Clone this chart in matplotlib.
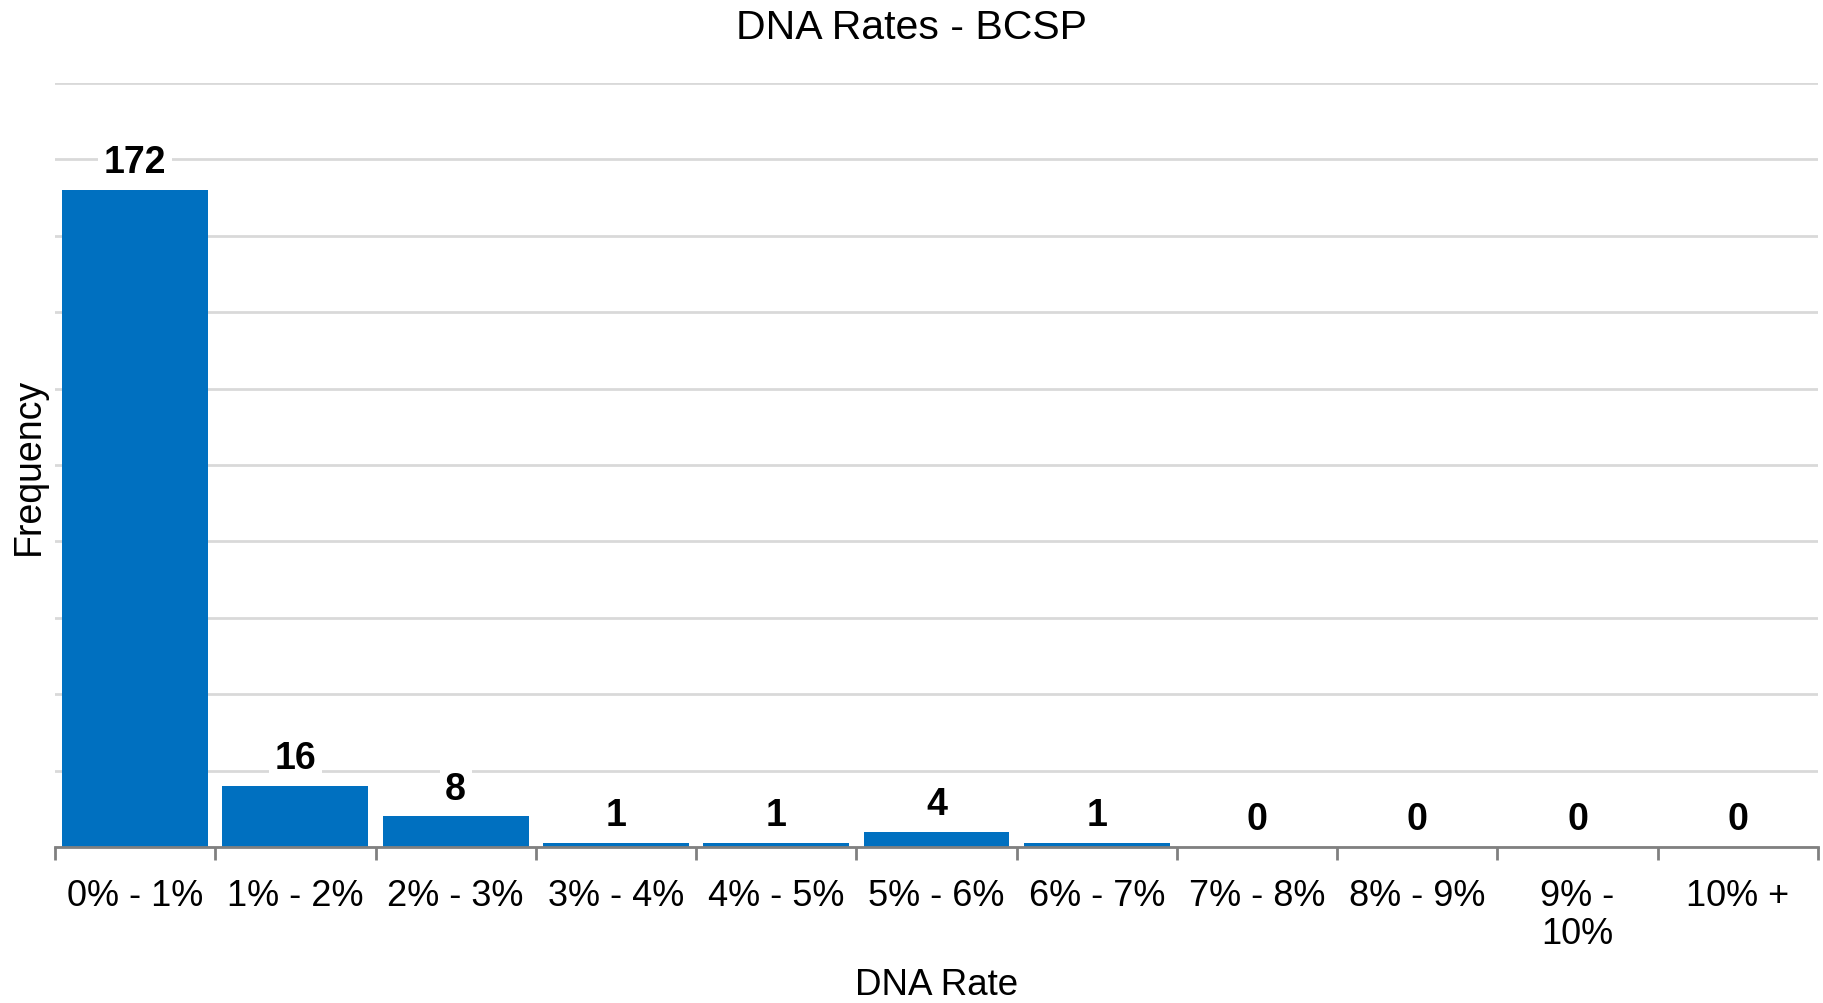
import matplotlib
matplotlib.use("Agg")
import matplotlib.pyplot as plt
import numpy as np

categories = ["0% - 1%", "1% - 2%", "2% - 3%", "3% - 4%", "4% - 5%", "5% - 6%",
              "6% - 7%", "7% - 8%", "8% - 9%", "9% -\n10%", "10% +"]
values = [172, 16, 8, 1, 1, 4, 1, 0, 0, 0, 0]
title = "DNA Rates - BCSP"
xlabel = "DNA Rate"
ylabel = "Frequency"

plt.rcParams['font.family'] = ['Liberation Sans', 'DejaVu Sans']

W, H = 1823, 1004
fig = plt.figure(figsize=(W / 100, H / 100), dpi=100)
ax = fig.add_axes([55 / W, 1 - 848 / H, (1818 - 55) / W, (848 - 84) / H])

x = np.arange(len(categories))
ax.bar(x, values, width=0.91, color="#0070C0", zorder=2)
ax.set_xlim(-0.5, len(categories) - 0.5)
ax.set_ylim(0, 200)
ax.set_yticks(np.arange(0, 201, 20))
ax.yaxis.grid(True, color="#d9d9d9", linewidth=2, zorder=0)
ax.set_axisbelow(True)
ax.tick_params(axis='y', left=False, labelleft=False)

for s in ["left", "right", "top"]:
    ax.spines[s].set_visible(False)
ax.spines["bottom"].set_color("#808080")
ax.spines["bottom"].set_linewidth(2)
ax.spines["bottom"].set_zorder(3)

ax.set_xticks(x)
ax.set_xticklabels(categories, fontsize=26, linespacing=1.12)
ax.tick_params(axis='x', which='major', length=0, pad=22)
ax.set_xticks(np.arange(-0.5, len(categories), 1.0), minor=True)
ax.tick_params(axis='x', which='minor', length=9, width=2, color="#808080", direction='out')

for xi, v in zip(x, values):
    ax.annotate(str(v), (xi, v), xytext=(0, 20), textcoords='offset points',
                ha='center', va='center', fontsize=27, fontweight='bold', color='#000000',
                bbox=dict(boxstyle='square,pad=0.15', fc='white', ec='none'), zorder=4)

fig.text(911 / W, 1 - 28 / H, title, ha='center', va='center', fontsize=29.5)
fig.text(937 / W, 1 - 995 / H, xlabel, ha='center', va='baseline', fontsize=26.5)
fig.text(29 / W, 1 - 466 / H, ylabel, ha='center', va='center', fontsize=27, rotation=90)

fig.savefig("out.png", dpi=100)
